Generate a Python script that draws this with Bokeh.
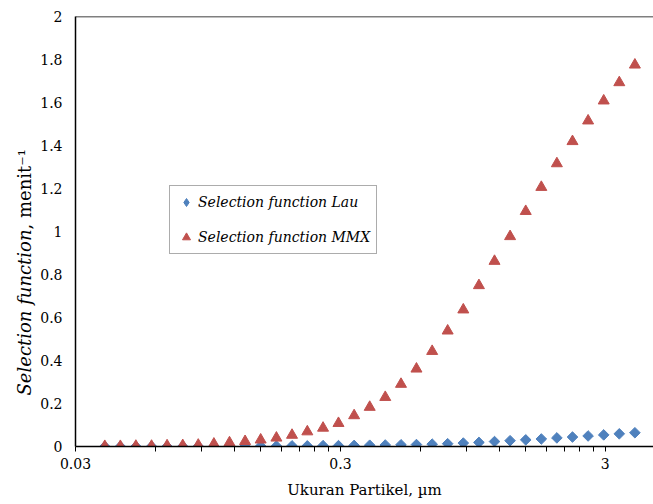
import math

from bokeh.embed import file_html
from bokeh.layouts import row
from bokeh.models import (FixedTicker, Label, Legend, LegendItem,
                          NumeralTickFormatter, Range1d, Span)
from bokeh.plotting import figure
from bokeh.resources import INLINE

# Particle size classes (µm)
particle_size = [0.0387, 0.0443, 0.0507, 0.0581, 0.0665, 0.0762, 0.0872,
                 0.0999, 0.1144, 0.1310, 0.150, 0.172, 0.197, 0.225, 0.258,
                 0.295, 0.338, 0.387, 0.443, 0.508, 0.581, 0.666, 0.762,
                 0.873, 1.000, 1.145, 1.311, 1.502, 1.720, 1.969, 2.255,
                 2.583, 2.958, 3.387, 3.879]

# Selection function (1/menit), Lau model
sf_lau = [0.0001, 0.0001, 0.0002, 0.0003, 0.0004, 0.0005, 0.0007, 0.0009,
          0.0012, 0.0015, 0.002, 0.002, 0.003, 0.003, 0.004, 0.004, 0.005,
          0.006, 0.007, 0.008, 0.009, 0.011, 0.013, 0.016, 0.019, 0.023,
          0.027, 0.031, 0.035, 0.040, 0.044, 0.049, 0.054, 0.059, 0.064]

# Selection function (1/menit), MMX model
sf_mmx = [0.001, 0.001, 0.002, 0.002, 0.004, 0.005, 0.007, 0.012, 0.018,
          0.024, 0.031, 0.040, 0.053, 0.069, 0.086, 0.108, 0.144, 0.183,
          0.229, 0.290, 0.361, 0.443, 0.538, 0.636, 0.749, 0.862, 0.977,
          1.094, 1.206, 1.316, 1.419, 1.515, 1.608, 1.693, 1.775]

x_major_ticks = [0.03, 0.3, 3]
x_minor_ticks = [0.06, 0.09, 0.12, 0.15, 0.18, 0.21, 0.24, 0.27,
                 0.6, 0.9, 1.2, 1.5, 1.8, 2.1, 2.4, 2.7]
y_ticks = [0, 0.2, 0.4, 0.6, 0.8, 1, 1.2, 1.4, 1.6, 1.8, 2]

SERIF = "DejaVu Serif"
BLUE = "#4F81BD"
RED = "#C0504D"
STRIP_W = 37
H = 504

# ---- narrow strip holding the y-axis title (mixed italic / upright) ----
# its frame fills the whole strip, with pixel-sized ranges (y grows downward)
title_strip = figure(frame_width=STRIP_W, frame_height=H, output_backend="svg",
                     toolbar_location=None, min_border=0,
                     x_axis_location=None, y_axis_location=None,
                     x_range=Range1d(0, STRIP_W), y_range=Range1d(H, 0))
title_strip.outline_line_color = None
title_strip.xgrid.visible = False
title_strip.ygrid.visible = False
title_strip.add_layout(Label(x=24, y=213,
                             text="Selection function", angle=math.pi / 2,
                             text_align="right", text_baseline="middle",
                             text_font=SERIF, text_font_style="italic",
                             text_font_size="18px", text_color="black"))
title_strip.add_layout(Label(x=24, y=213,
                             text=", menit\u207b\u00b9", angle=math.pi / 2,
                             text_align="left", text_baseline="middle",
                             text_font=SERIF, text_font_size="18px",
                             text_color="black"))

# ---- main chart ----
p = figure(width=653 - STRIP_W, height=H, x_axis_type="log",
           x_range=Range1d(0.03, 4.56), y_range=Range1d(0, 2),
           output_backend="svg", toolbar_location=None,
           min_border_left=73 - STRIP_W, min_border_right=0,
           min_border_top=16, min_border_bottom=58)

p.outline_line_color = None
p.xgrid.visible = False
p.ygrid.visible = False

# x axis (log)
xa = p.xaxis[0]
xa.ticker = FixedTicker(ticks=x_major_ticks, minor_ticks=x_minor_ticks)
xa.formatter = NumeralTickFormatter(format="0.[00]")
xa.axis_line_color = "black"
xa.axis_line_width = 1.5
xa.major_tick_in = 0
xa.major_tick_out = 5
xa.minor_tick_in = 0
xa.minor_tick_out = 5
xa.major_tick_line_color = "black"
xa.minor_tick_line_color = "black"
xa.major_label_text_font = SERIF
xa.major_label_text_font_size = "14px"
xa.major_label_text_color = "black"
xa.major_label_standoff = 6
xa.axis_label = "Ukuran Partikel, µm"
xa.axis_label_text_font = SERIF
xa.axis_label_text_font_style = "normal"
xa.axis_label_text_font_size = "15px"
xa.axis_label_text_color = "black"
xa.axis_label_standoff = 9

# y axis
ya = p.yaxis[0]
ya.ticker = FixedTicker(ticks=y_ticks)
ya.formatter = NumeralTickFormatter(format="0.[0]")
ya.axis_line_color = "black"
ya.axis_line_width = 1.5
ya.major_tick_in = 0
ya.major_tick_out = 0
ya.minor_tick_in = 0
ya.minor_tick_out = 0
ya.major_label_text_font = SERIF
ya.major_label_text_font_size = "14px"
ya.major_label_text_color = "black"
ya.major_label_standoff = 13

# top border of the plot area
p.add_layout(Span(location=2, dimension="width", line_color="black",
                  line_width=1.5))

lau = p.scatter(particle_size, sf_lau, marker="square", angle=math.pi / 4,
                size=7.5, fill_color=BLUE, line_color=BLUE)
mmx = p.scatter(particle_size, sf_mmx, marker="triangle", size=11,
                fill_color=RED, line_color=RED)

# legend swatch for the Lau series (the legend does not rotate markers)
lau_key = p.scatter([float("nan")], [float("nan")], marker="diamond",
                    size=15, fill_color=BLUE, line_color=BLUE)

legend = Legend(items=[LegendItem(label="Selection function Lau", renderers=[lau_key]),
                       LegendItem(label="Selection function MMX", renderers=[mmx])],
                location=(94, 192))
legend.label_text_font = SERIF
legend.label_text_font_style = "italic"
legend.label_text_font_size = "14px"
legend.label_text_color = "black"
legend.border_line_color = "#595959"
legend.border_line_width = 1
legend.background_fill_alpha = 1
legend.padding = 6
legend.margin = 0
legend.spacing = 15
legend.glyph_width = 20
legend.glyph_height = 20
legend.label_standoff = 2
legend.label_height = 20
p.add_layout(legend)

layout = row(title_strip, p, spacing=0)
open("out.html", "w").write(file_html(layout, INLINE))
